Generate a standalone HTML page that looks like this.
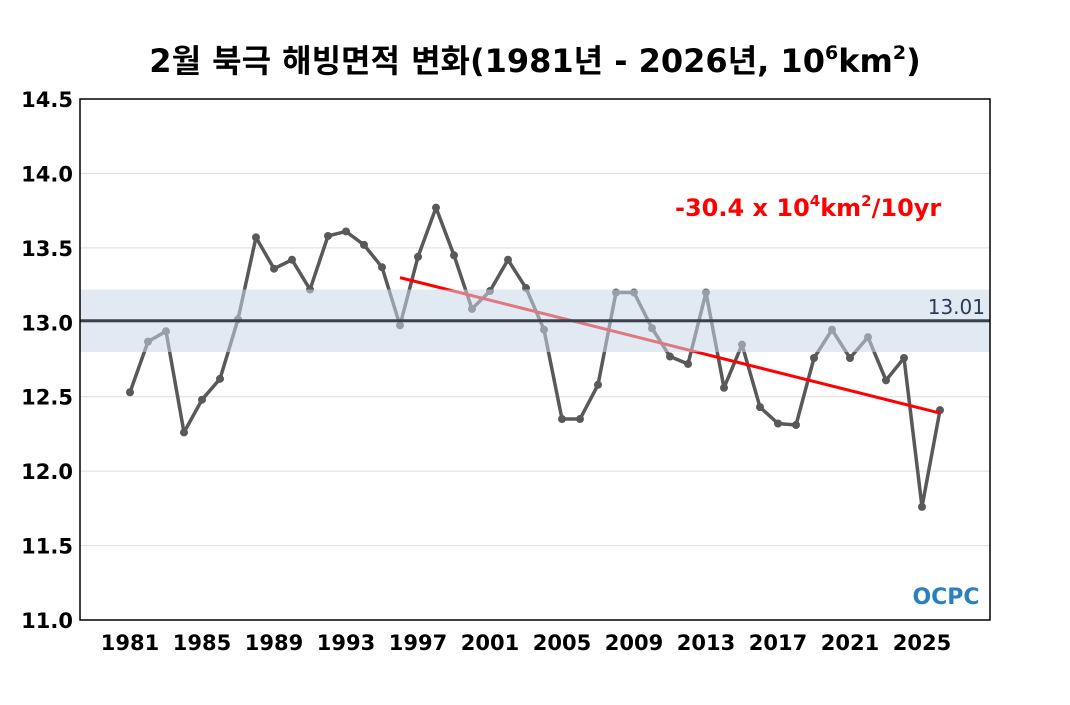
<!DOCTYPE html>
<html><head><meta charset="utf-8"><style>
body{margin:0;background:#fff;}
svg text{font-family:"DejaVu Sans","Noto Sans CJK KR",sans-serif;}
</style></head><body>
<svg id="chart" width="1070" height="700" xmlns="http://www.w3.org/2000/svg">
<text x="535" y="72" text-anchor="middle" font-size="32" font-weight="bold">2월 북극 해빙면적 변화(1981년 - 2026년, 10<tspan font-size="19" dy="-13">6</tspan><tspan dy="13">km</tspan><tspan font-size="19" dy="-13">2</tspan><tspan dy="13">)</tspan></text>
<g id="grid"></g><g id="series"></g><g id="overlay"></g><g id="axes"></g>
<text x="675" y="216" font-size="24" font-weight="bold" fill="#f00">-30.4 x 10<tspan font-size="15" dy="-10">4</tspan><tspan dy="10">km</tspan><tspan font-size="15" dy="-10">2</tspan><tspan dy="10">/10yr</tspan></text>
<text x="985" y="314" text-anchor="end" font-size="20" fill="#2b3a55">13.01</text>
<g><text x="946" y="604" text-anchor="middle" font-size="22" font-weight="bold" fill="#2a7fc0">OCPC</text></g>
</svg>
<script>
const years=[1981,1982,1983,1984,1985,1986,1987,1988,1989,1990,1991,1992,1993,1994,1995,1996,1997,1998,1999,2000,2001,2002,2003,2004,2005,2006,2007,2008,2009,2010,2011,2012,2013,2014,2015,2016,2017,2018,2019,2020,2021,2022,2023,2024,2025,2026];
const extent=[12.53,12.87,12.94,12.26,12.48,12.62,13.02,13.57,13.36,13.42,13.22,13.58,13.61,13.52,13.37,12.98,13.44,13.77,13.45,13.09,13.21,13.42,13.23,12.95,12.35,12.35,12.58,13.2,13.2,12.96,12.77,12.72,13.2,12.56,12.85,12.43,12.32,12.31,12.76,12.95,12.76,12.9,12.61,12.76,11.76,12.41];
const yTicks=[11.0,11.5,12.0,12.5,13.0,13.5,14.0,14.5];
const xTickLabels=[1981,1985,1989,1993,1997,2001,2005,2009,2013,2017,2021,2025];
const meanVal=[13.01];
const bandRange=[12.80,13.22];
const trendYears=[1996,2026];
const trendVals=[13.30,12.39];
const NS="http://www.w3.org/2000/svg";
const L=80,R=990,T=99,B=620;
const x=y=>130+(y-1981)*18;
const yS=v=>B-(v-11)/(14.5-11)*(B-T);
function mk(tag,attrs,parent){const e=document.createElementNS(NS,tag);for(const k in attrs)e.setAttribute(k,attrs[k]);document.getElementById(parent).appendChild(e);return e;}
yTicks.forEach(t=>{
 const g=mk('line',{x1:L,x2:R,y1:yS(t),y2:yS(t),stroke:'#ddd','stroke-width':1},'grid');
 
 
 const tx=mk('text',{x:73,y:yS(t)+8,'text-anchor':'end','font-size':21,'font-weight':'bold'},'axes');
 tx.textContent=t.toFixed(1);
 
 
});
xTickLabels.forEach(t=>{
 const tx=mk('text',{x:x(t),y:650,'text-anchor':'middle','font-size':21,'font-weight':'bold'},'axes');
 tx.textContent=t;
 
 
});
const fr=mk('rect',{x:L,y:T,width:R-L,height:B-T,fill:'none',stroke:'#000','stroke-width':1.5},'axes');


const pts=years.map((y,i)=>x(y)+','+yS(extent[i])).join(' ');
const pl=mk('polyline',{points:pts,fill:'none',stroke:'#595959','stroke-width':3.5,'stroke-linejoin':'round'},'series');


years.forEach((y,i)=>{
 const c=mk('circle',{cx:x(y),cy:yS(extent[i]),r:4,fill:'#595959'},'series');
 
 
});
const tl=mk('line',{x1:x(trendYears[0]),y1:yS(trendVals[0]),x2:x(trendYears[1]),y2:yS(trendVals[1]),stroke:'#f00','stroke-width':3},'series');


const band=mk('rect',{x:L,y:yS(bandRange[1]),width:R-L,height:yS(bandRange[0])-yS(bandRange[1]),fill:'#c8d8ea','fill-opacity':0.55},'overlay');


const ml=mk('line',{x1:L,x2:R,y1:yS(meanVal[0]),y2:yS(meanVal[0]),stroke:'#3a4250','stroke-width':3},'overlay');


</script>
</body></html>
